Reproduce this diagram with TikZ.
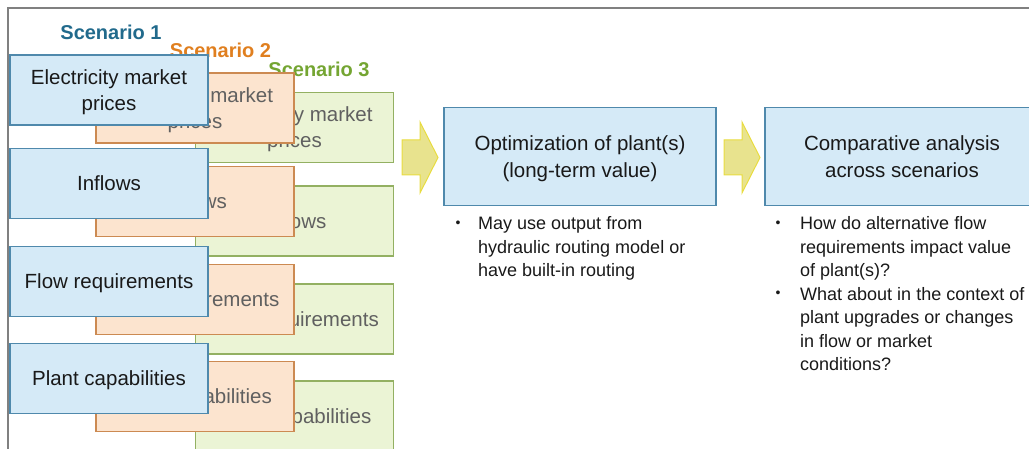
\documentclass[tikz,border=0pt]{standalone}
\usepackage{fontspec}
\setmainfont{Liberation Sans}
\usepackage{xcolor}
\usepackage{tikz}
\usetikzlibrary{positioning,calc}

\definecolor{frontfill}{HTML}{D5EAF7}
\definecolor{frontline}{HTML}{4F89AC}
\definecolor{midfill}{HTML}{FCE4CF}
\definecolor{midline}{HTML}{CC8A52}
\definecolor{backfill}{HTML}{EBF4D5}
\definecolor{backline}{HTML}{93B062}
\definecolor{fadedtext}{HTML}{606060}
\definecolor{scenone}{HTML}{216A8C}
\definecolor{scentwo}{HTML}{E07F1F}
\definecolor{scenthree}{HTML}{74A532}
\definecolor{arrowfill}{HTML}{E8E38E}
\definecolor{arrowline}{HTML}{E8DC40}

\begin{document}
\begin{tikzpicture}[x=1pt, y=-1pt,
  inbox/.style={draw, line width=1.2pt, minimum width=198pt, minimum height=70pt,
    inner sep=0pt, align=center, text depth=0pt, font=\fontsize{20.5}{26}\selectfont},
  frontbox/.style={inbox, fill=frontfill, draw=frontline, text=black!90},
  midbox/.style={inbox, fill=midfill, draw=midline, text=fadedtext},
  backbox/.style={inbox, fill=backfill, draw=backline, text=fadedtext},
  mainbox/.style={draw=frontline, fill=frontfill, line width=1.2pt, minimum height=98pt,
    inner sep=0pt, align=center, text depth=0pt, text=black!90,
    font=\fontsize{20.5}{27}\selectfont},
  scenlabel/.style={font=\bfseries\fontsize{20}{24}\selectfont, inner sep=0pt},
  blockarrow/.style={fill=arrowfill, draw=arrowline, line width=1pt, line join=miter},
  notes/.style={anchor=north west, inner sep=0pt, align=left, text=black!90,
    font=\fontsize{18}{23.5}\selectfont},
  dot/.style={anchor=base, inner sep=0pt, text=black!90, font=\fontsize{14}{16}\selectfont}]
  \clip (0,0) rectangle (1029,449);

  % frame
  \draw[line width=1.8pt, gray] (8,460) -- (8,8) -- (1040,8);

  % scenario 3 (back)
  \node[scenlabel, text=scenthree] (lab3) at (319,69) {Scenario 3};
  \foreach \y/\txt [count=\i] in {90/{Electricity market\\prices}, 183.5/Inflows,
      281.5/Flow requirements, 378.5/Plant capabilities}
    \node[backbox] (back\i) at (294.5,\y+37.5) {\txt};

  % scenario 2 (middle)
  \node[scenlabel, text=scentwo] (lab2) at (220.5,50) {Scenario 2};
  \foreach \y/\txt [count=\i] in {90/{Electricity market\\prices}, 183.5/Inflows,
      281.5/Flow requirements, 378.5/Plant capabilities}
    \node[midbox] (mid\i) at (195,\y+18) {\txt};

  % scenario 1 (front)
  \node[scenlabel, text=scenone] (lab1) at (111,32) {Scenario 1};
  \foreach \y/\txt [count=\i] in {90/{Electricity market\\prices}, 183.5/Inflows,
      281.5/Flow requirements, 378.5/Plant capabilities}
    \node[frontbox] (front\i) at (109,\y) {\txt};

  % block arrows
  \foreach \ax in {402,724}
    \filldraw[blockarrow] (\ax,140) -- (\ax+18,140) -- (\ax+18,122) -- (\ax+36,157.5)
      -- (\ax+18,193) -- (\ax+18,175) -- (\ax,175) -- cycle;

  % optimization
  \node[mainbox, minimum width=272pt] (opt) at (580,156.5)
    {Optimization of plant(s)\\(long-term value)};
  \node[dot] (optdot) at (458,227.5) {\textbullet};
  \node[notes] (optnote) at (478,216.5)
    {May use output from\\hydraulic routing model or\\have built-in routing};

  % comparison
  \node[mainbox, minimum width=274pt] (cmp) at (902,156.5)
    {Comparative analysis\\across scenarios};
  \node[dot] (cmpdota) at (778,227.5) {\textbullet};
  \node[notes] (cmpnotea) at (800,216.5)
    {How do alternative flow\\requirements impact value\\of plant(s)?};
  \node[dot] (cmpdotb) at (778,298) {\textbullet};
  \node[notes] (cmpnoteb) at (800,287)
    {What about in the context of\\plant upgrades or changes\\in flow or market\\conditions?};
\end{tikzpicture}
\end{document}
